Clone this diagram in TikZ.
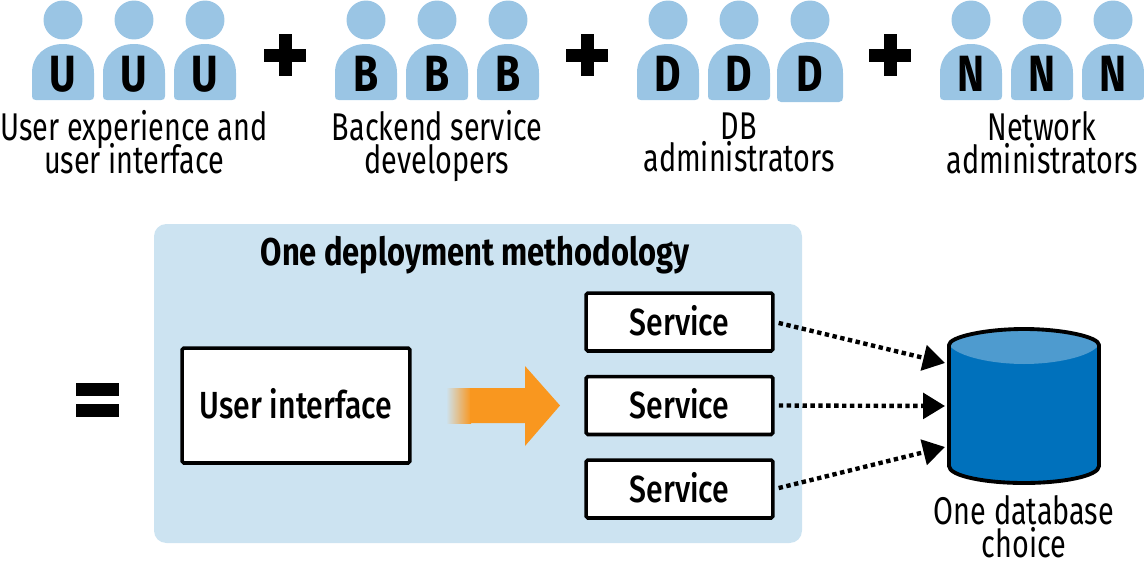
\documentclass[tikz,border=0pt]{standalone}
\usepackage{fontspec}
\setmainfont[FakeStretch=0.745]{Fira Sans}
\newfontfamily\mediumfont[FakeStretch=0.8]{Fira Sans Medium}
\newfontfamily\titlefont[FakeStretch=0.8]{Fira Sans Bold}
\usetikzlibrary{arrows.meta,shapes.geometric}
\definecolor{persona}{HTML}{9AC5E4}
\definecolor{panelblue}{HTML}{CCE3F1}
\definecolor{dbtop}{HTML}{4E9BCF}
\definecolor{dbbody}{HTML}{0071BC}
\definecolor{arroworange}{HTML}{F9971F}
\newcommand{\labelstrut}{\rule[-6pt]{0pt}{24pt}}
\tikzset{
  grouplabel/.style={align=center, font=\fontsize{22}{18.7}\selectfont, inner sep=0pt, execute at begin node={\setlength{\lineskiplimit}{-20pt}\labelstrut}, execute at end node=\labelstrut},
  boxlabel/.style={draw, line width=2pt, fill=white, rounded corners=1pt, text depth=2.2pt, font=\fontsize{21.5}{20}\selectfont\mediumfont},
  letter/.style={font=\fontsize{29}{29}\selectfont\titlefont, inner sep=0pt},
  head/.style={circle, fill=persona, minimum size=0.78cm, inner sep=0pt},
  sign/.style={line width=7.4pt},
  dbarrow/.style={line width=2.5pt, dash pattern=on 2.5pt off 2pt, shorten <=2.3pt, -{Triangle[length=12.5pt,width=14.5pt]}},
}
\begin{document}
\begin{tikzpicture}[x=0.02cm, y=-0.02cm]
    \useasboundingbox (0,0) rectangle (1144,565);

    % Personen
    \fill[persona] (777,73) .. controls (777,54) and (792,42) .. (810,42)
      .. controls (828,42) and (843,54) .. (843,73) -- (843,97)
      .. controls (843,100) and (842,102) .. (839,102) -- (781,102)
      .. controls (778,102) and (777,100) .. (777,97) -- cycle;
    \foreach \x/\l in {63/U,134/U,205/U,366/B,437/B,508/B,668/D,739/D,810/D,971/N,1042/N,1113/N} {
      \node[head] (head\x) at (\x,20) {};
      \fill[persona] (\x-31,73) .. controls (\x-31,55) and (\x-17,44) .. (\x,44)
        .. controls (\x+17,44) and (\x+31,55) .. (\x+31,73) -- (\x+31,96)
        .. controls (\x+31,99) and (\x+30,100) .. (\x+27,100) -- (\x-27,100)
        .. controls (\x-30,100) and (\x-31,99) .. (\x-31,96) -- cycle;
      \node[letter] (letter\x) at (\x,74) {\l};
    }

    % Pluszeichen
    \foreach \x in {285,587,890} {
      \draw[sign] (\x-21,55) -- (\x+21,55);
      \draw[sign] (\x,34) -- (\x,76);
    }

    % Gruppen
    \node[grouplabel] (uxlabel) at (134,147.5) {User experience and\\user interface};
    \node[grouplabel] (backendlabel) at (437,147.5) {Backend service\\developers};
    \node[grouplabel] (dblabel) at (739,147.5) {DB\\administrators};
    \node[grouplabel] (netlabel) at (1042,147.5) {Network\\administrators};

    % Gleichheitszeichen
    \draw[sign] (76,389) -- (119,389);
    \draw[sign] (76,410) -- (119,410);

    % Bereich
    \fill[panelblue, rounded corners=7pt] (154,224) rectangle (802,543);
    \node[inner sep=0pt, font=\fontsize{22}{22}\selectfont\titlefont] (paneltitle) at (475,255) {One deployment methodology};

    \node[boxlabel, minimum width=4.56cm, minimum height=2.3cm] (ui) at (296,405.5) {User interface};
    \node[boxlabel, minimum width=3.74cm, minimum height=1.16cm] (svc1) at (679.5,322) {Service};
    \node[boxlabel, minimum width=3.74cm, minimum height=1.16cm] (svc2) at (679.5,405.5) {Service};
    \node[boxlabel, minimum width=3.74cm, minimum height=1.16cm] (svc3) at (679.5,489) {Service};

    % Pfeil
    \shade[left color=panelblue, right color=arroworange] (446,388) rectangle (471,423);
    \fill[arroworange] (470,388) -- (525,388) -- (525,366) -- (560,405.5) -- (525,446) -- (525,423) -- (470,423) -- cycle;

    % Datenbank
    \fill[dbbody] (949,345) -- (949,466) .. controls (949,476) and (985,483) .. (1024,483)
      .. controls (1063,483) and (1099,476) .. (1099,466) -- (1099,345) -- cycle;
    \fill[dbtop] (949,345) .. controls (949,337) and (985,329) .. (1024,329)
      .. controls (1063,329) and (1099,337) .. (1099,345)
      .. controls (1090,357) and (1055,364) .. (1024,364)
      .. controls (993,364) and (958,357) .. (949,345) -- cycle;
    \node[minimum width=3cm, minimum height=3.08cm, inner sep=0pt] (db) at (1024,406) {};
    \draw[line width=2.2pt, line join=round] (949,345) .. controls (949,337) and (985,329) .. (1024,329)
      .. controls (1063,329) and (1099,337) .. (1099,345) -- (1099,466)
      .. controls (1099,476) and (1063,483) .. (1024,483)
      .. controls (985,483) and (949,476) .. (949,466) -- cycle;
    \node[grouplabel] (dbchoice) at (1024,531.5) {One database\\choice};

    % Verbindungen
    \coordinate (dbin1) at (945,363);
    \coordinate (dbin2) at (945,406);
    \coordinate (dbin3) at (945,447);
    \draw[dbarrow] (svc1.east) -- (dbin1);
    \draw[dbarrow] (svc2.east) -- (dbin2);
    \draw[dbarrow] (svc3.east) -- (dbin3);
  \end{tikzpicture}
\end{document}
